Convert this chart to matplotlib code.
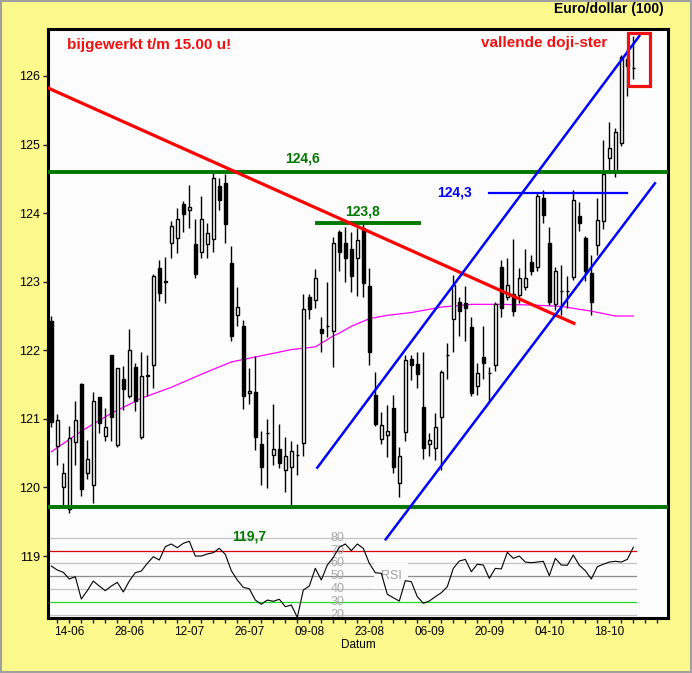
import numpy as np
import pandas as pd
import matplotlib
matplotlib.use("Agg")
import matplotlib.pyplot as plt
from matplotlib.patches import Rectangle

plt.rcParams['font.family'] = ['Liberation Sans', 'DejaVu Sans']

### DATA ###
dates = pd.bdate_range("2004-06-09", periods=98)

opens  = [122.43, 120.61, 120.00, 119.68, 120.66, 121.51, 120.21, 120.03, 121.32, 120.75,
          121.93, 120.62, 121.58, 121.34, 121.76, 120.73, 121.64, 121.78, 123.20, 123.01,
          123.56, 123.63, 124.13, 124.05, 123.55, 123.43, 123.55, 123.62, 124.40, 124.44,
          123.27, 122.51, 122.36, 121.37, 121.39, 120.63, 120.80, 120.47, 120.56, 120.25,
          120.30, 120.48, 120.65, 122.78, 122.73, 122.31, 122.36, 122.28, 123.72, 123.57,
          123.47, 123.34, 123.78, 122.94, 121.35, 120.70, 120.77, 121.16, 120.06, 120.81,
          121.87, 121.80, 121.17, 120.63, 120.57, 121.03, 121.93, 122.45, 122.71, 122.69,
          122.34, 121.48, 121.90, 121.67, 121.79, 123.21, 122.77, 122.82, 122.81, 122.93,
          123.29, 123.22, 124.22, 123.57, 122.67, 122.87, 122.86, 123.07, 123.96, 123.63,
          123.12, 123.54, 123.88, 124.80, 124.60, 125.02, 126.25, 126.11]
highs  = [122.50, 121.07, 120.35, 120.89, 121.26, 121.52, 120.69, 121.39, 121.32, 121.16,
          121.93, 121.74, 121.77, 122.31, 121.82, 121.97, 121.93, 123.11, 123.32, 123.36,
          123.88, 124.08, 124.17, 124.41, 123.91, 124.25, 123.85, 124.60, 124.51, 124.57,
          123.52, 122.92, 122.44, 121.74, 121.92, 120.83, 121.00, 121.22, 120.92, 120.74,
          120.67, 120.63, 122.82, 122.82, 123.18, 122.48, 122.99, 123.65, 123.76, 123.80,
          123.73, 123.78, 123.84, 123.20, 121.68, 121.10, 121.20, 121.35, 120.59, 121.93,
          121.93, 121.98, 121.98, 120.80, 121.08, 121.71, 122.10, 123.10, 122.78, 122.94,
          122.48, 121.82, 122.36, 121.75, 122.70, 123.31, 123.34, 123.62, 123.20, 123.47,
          123.39, 124.31, 124.33, 123.80, 123.22, 123.24, 123.08, 124.34, 124.16, 123.67,
          123.39, 124.22, 125.07, 125.33, 125.24, 126.31, 126.40, 126.58]
lows   = [120.88, 120.33, 119.71, 119.62, 120.33, 119.88, 120.13, 119.78, 120.80, 120.67,
          120.68, 120.59, 121.13, 121.31, 121.12, 120.70, 121.34, 121.45, 122.72, 122.69,
          123.35, 123.42, 123.73, 123.78, 123.05, 123.34, 123.34, 123.43, 124.05, 123.57,
          122.14, 122.35, 121.15, 121.22, 120.54, 120.03, 119.99, 120.32, 120.28, 119.93,
          119.70, 120.18, 120.46, 122.45, 122.62, 121.97, 122.19, 121.75, 123.16, 122.99,
          122.85, 122.79, 122.78, 121.78, 120.89, 120.64, 120.44, 120.21, 119.86, 120.67,
          121.57, 121.45, 120.41, 120.46, 120.40, 120.26, 121.58, 121.98, 122.21, 122.14,
          121.34, 121.35, 121.58, 121.26, 121.70, 122.48, 122.73, 122.50, 122.69, 122.88,
          123.10, 123.15, 123.86, 122.66, 122.59, 122.51, 122.62, 123.03, 123.74, 123.01,
          122.51, 123.39, 123.77, 124.60, 124.52, 124.98, 125.71, 125.96]
closes = [120.95, 120.99, 120.21, 120.72, 120.99, 119.97, 120.42, 121.26, 120.94, 120.88,
          121.03, 121.74, 121.44, 122.00, 121.26, 121.62, 121.62, 123.08, 122.83, 123.00,
          123.81, 123.91, 123.98, 124.09, 123.11, 123.92, 123.71, 124.51, 124.19, 123.84,
          122.21, 122.63, 121.34, 121.41, 120.73, 120.30, 120.80, 120.56, 120.36, 120.46,
          120.53, 120.48, 122.60, 122.60, 123.05, 122.25, 122.36, 123.56, 123.44, 123.35,
          123.09, 123.61, 122.98, 121.98, 120.93, 120.91, 120.83, 120.30, 120.46, 121.86,
          121.78, 121.66, 120.57, 120.69, 120.88, 121.68, 121.93, 122.95, 122.57, 122.61,
          121.37, 121.67, 121.81, 121.67, 122.68, 122.61, 122.95, 122.57, 123.06, 123.06,
          123.16, 124.25, 123.97, 122.71, 123.16, 122.87, 122.86, 124.19, 123.85, 123.15,
          122.70, 123.90, 124.57, 124.95, 125.18, 126.28, 126.15, 126.11]

rsi = [58.0, 54.9, 53.1, 47.9, 49.7, 32.3, 38.8, 46.3, 42.4, 38.8,
       42.4, 45.3, 37.8, 46.3, 52.8, 54.1, 60.1, 65.3, 62.7, 73.1,
       75.2, 72.3, 75.7, 77.3, 65.8, 65.8, 67.4, 68.4, 71.8, 67.1,
       54.4, 47.1, 41.4, 40.3, 31.5, 28.2, 31.5, 30.5, 32.1, 26.3,
       27.6, 18.0, 39.3, 42.4, 56.2, 47.1, 58.8, 64.8, 72.6, 75.2,
       70.0, 75.2, 71.8, 60.1, 52.8, 52.3, 36.0, 33.3, 30.7, 46.6,
       45.8, 34.1, 29.0, 30.7, 34.1, 37.2, 41.9, 56.2, 61.9, 63.2,
       53.6, 59.4, 58.8, 48.4, 56.2, 55.7, 68.7, 64.0, 65.8, 61.1,
       60.6, 61.1, 61.7, 50.5, 64.0, 58.8, 58.6, 66.6, 58.6, 54.4,
       47.9, 57.5, 59.4, 61.1, 61.7, 61.1, 63.2, 72.6]

# moving average (100), read at a few candles
ma_idx = [0, 5, 10, 15, 20, 25, 30, 35, 40, 44, 47, 48, 50, 53, 56, 60, 65, 70, 75, 80, 85, 90, 94, 97]
ma_val = [120.52, 120.82, 121.08, 121.30, 121.46, 121.65, 121.83, 121.92, 122.01, 122.05, 122.21, 122.25,
          122.35, 122.46, 122.51, 122.55, 122.63, 122.67, 122.67, 122.66, 122.64, 122.57, 122.50, 122.50]

# drawn lines (index, price)
red_trend_x, red_trend_y = [-0.55, 87.1], [125.825, 122.393]
blue_up_x, blue_up_y = [44.33, 98.0], [120.288, 126.583]
blue_lo_x, blue_lo_y = [55.73, 100.6], [119.243, 124.435]
resist_124_3 = (124.30, 73.0, 95.9)
resist_123_8 = (123.85, 44.3, 61.3)
level_124_6 = 124.60
level_119_7 = 119.71

rsi_levels = [80, 70, 60, 50, 40, 30, 20]

### PLOT ###
yellow = '#fcf98c'
fig = plt.figure(figsize=(6.92, 6.73), dpi=100, facecolor=yellow)
ax = fig.add_axes([48/692, 1-618/673, 620/692, 589/673])
ax.set_facecolor('#fcfcfc')
ax.set_xlim(-0.55, 102.78)
ax.set_ylim(118.096, 126.685)

def rsi_to_price(r):
    return 118.704 + (np.asarray(r, dtype=float) - 50) * 0.01871

# RSI panel
rsi_colors = {80: '#c4c4c4', 70: '#dd0000', 60: '#c4c4c4', 50: '#8c8c8c', 40: '#c4c4c4', 30: '#22dd22', 20: '#c4c4c4'}
for lev in rsi_levels:
    yy = rsi_to_price(lev)
    if lev == 50:
        ax.plot([-0.55, 97.5], [yy, yy], color=rsi_colors[lev], lw=0.9, zorder=1)
    else:
        ax.plot([-0.55, 97.5], [yy, yy], color=rsi_colors[lev], lw=0.9, zorder=1)
    ax.text(47.7, yy, str(lev), ha='center', va='center', fontsize=9, color='#a8a8a8', zorder=2)
ax.text(56.6, rsi_to_price(50), 'RSI', ha='center', va='center', fontsize=9, color='#a0a0a0', zorder=2,
        bbox=dict(facecolor='#fcfcfc', edgecolor='none', pad=5))
x = np.arange(len(opens))
ax.plot(x, rsi_to_price(rsi), color='black', lw=0.8, zorder=3)

# moving average
ax.plot(ma_idx, ma_val, color='#ff00ff', lw=0.9, zorder=2)

# candles
o, h, l, c = map(np.array, (opens, highs, lows, closes))
up = c >= o
ax.vlines(x, l, h, color='black', lw=1.0, zorder=4)
bot = np.minimum(o, c)
hgt = np.abs(c - o)
ax.bar(x[up], hgt[up], 0.6, bottom=bot[up], facecolor='white', edgecolor='black', lw=1.0, zorder=5)
ax.bar(x[~up], hgt[~up], 0.6, bottom=bot[~up], facecolor='black', edgecolor='black', lw=1.0, zorder=5)

# levels and trend lines
ax.axhline(level_124_6, color='#007800', lw=2.8, zorder=6)
ax.axhline(level_119_7, color='#007800', lw=2.8, zorder=6)
ax.plot(resist_123_8[1:], [resist_123_8[0]] * 2, color='#007800', lw=2.8, zorder=6)
ax.plot(resist_124_3[1:], [resist_124_3[0]] * 2, color='#0000ff', lw=1.6, zorder=6)
ax.plot(red_trend_x, red_trend_y, color='#ff0000', lw=2.3, zorder=7)
ax.plot(blue_up_x, blue_up_y, color='#0000ff', lw=1.8, zorder=7)
ax.plot(blue_lo_x, blue_lo_y, color='#0000ff', lw=1.8, zorder=7)
ax.add_patch(Rectangle((96.1, 125.854), 3.7, 0.773, facecolor='none', edgecolor='#ee1111', lw=2.3, zorder=8))

ax.text(41.8, 124.80, '124,6', color='#007800', fontsize=10, fontweight='bold', ha='center', va='center')
ax.text(51.8, 124.03, '123,8', color='#007800', fontsize=10, fontweight='bold', ha='center', va='center')
ax.text(33.0, 119.28, '119,7', color='#007800', fontsize=10, fontweight='bold', ha='center', va='center')
ax.text(67.2, 124.30, '124,3', color='#0000ff', fontsize=10, fontweight='bold', ha='center', va='center')

fig.text(0.0964, 0.9331, 'bijgewerkt t/m 15.00 u!', color='#f01010', fontsize=11, fontweight='bold', va='center')
fig.text(0.695, 0.9366, 'vallende doji-ster', color='#f01010', fontsize=11, fontweight='bold', va='center')
fig.text(0.9595, 0.9866, 'Euro/dollar (100)', color='black', fontsize=10, fontweight='bold', ha='right', va='center')

# axes
yt = np.arange(119, 127)
ax.set_yticks(yt)
ax.set_yticklabels([str(v) for v in yt], fontsize=9)
major = np.arange(3, 97, 10)
ax.set_xticks(major)
ax.set_xticklabels([dates[k].strftime('%d-%m') for k in major], fontsize=8.5)
ax.set_xticks(np.arange(1, 103, 2), minor=True)
ax.tick_params(axis='both', which='both', direction='out', length=3.5, width=1, color='#301040', pad=2)
ax.set_xlabel('Datum', fontsize=8.5, labelpad=1)
for s in ax.spines.values():
    s.set_linewidth(2.2)
    s.set_color('black')

fig.add_artist(Rectangle((0.001, 0.001), 0.998, 0.998, transform=fig.transFigure, facecolor='none',
                         edgecolor='#a0a0a0', lw=1.5))

plt.savefig('out.png', dpi=100, facecolor=yellow)
